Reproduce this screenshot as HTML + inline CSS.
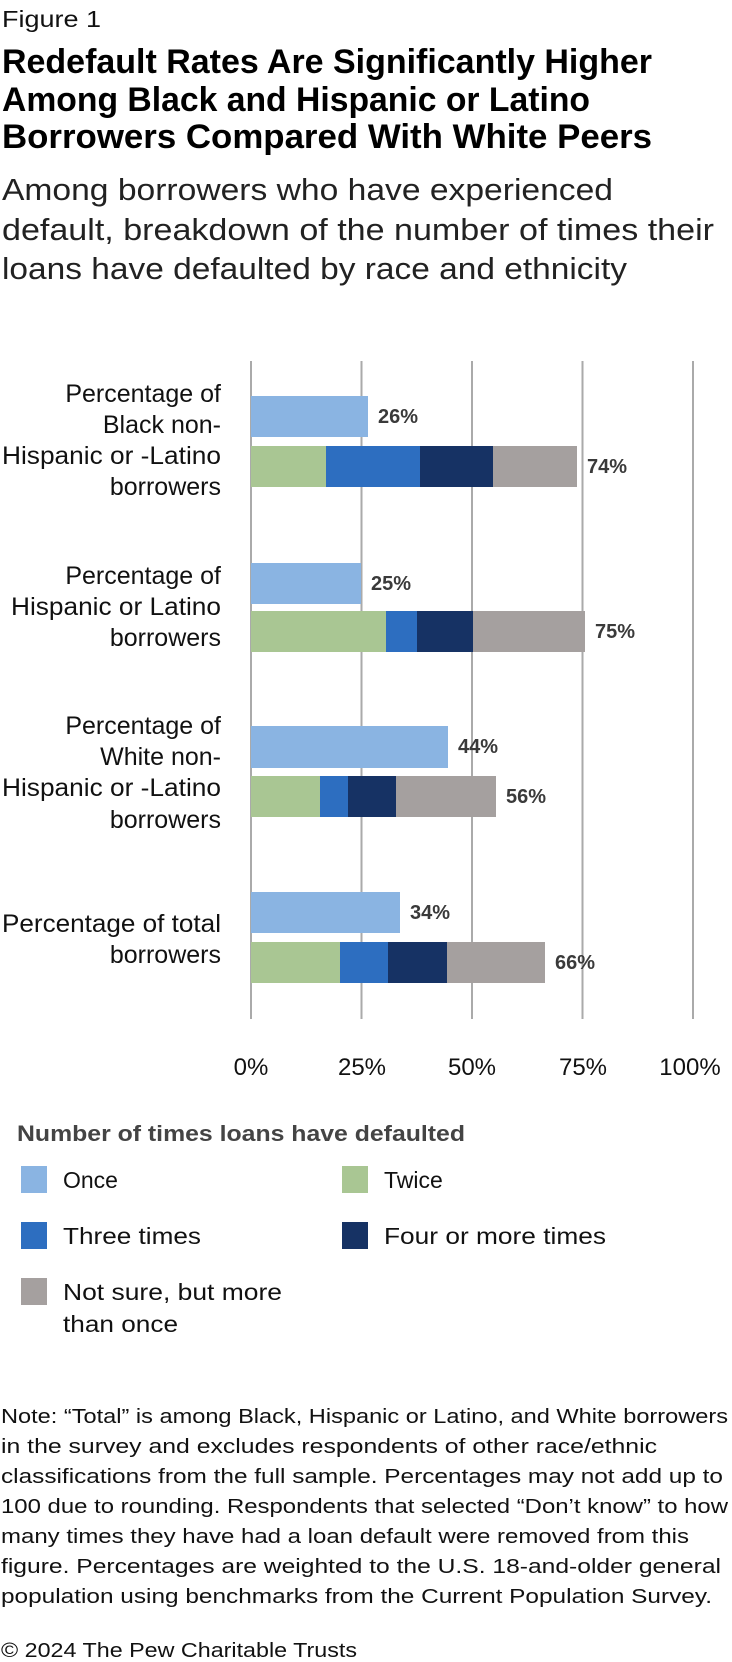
<!DOCTYPE html>
<html><head><meta charset="utf-8"><style>
html,body{margin:0;padding:0;background:#fff}
svg{display:block}
text{font-family:"Liberation Sans",sans-serif}
</style></head><body>
<svg width="732" height="1662" viewBox="0 0 732 1662" xmlns="http://www.w3.org/2000/svg">
<text x="2" y="27" font-size="23" fill="#111" textLength="99" lengthAdjust="spacingAndGlyphs">Figure 1</text>
<g font-weight="bold" font-size="34" fill="#000">
<text x="2" y="73" textLength="650" lengthAdjust="spacingAndGlyphs">Redefault Rates Are Significantly Higher</text>
<text x="2" y="111" textLength="588" lengthAdjust="spacingAndGlyphs">Among Black and Hispanic or Latino</text>
<text x="2" y="148" textLength="650" lengthAdjust="spacingAndGlyphs">Borrowers Compared With White Peers</text>
</g>
<g font-size="31" fill="#222">
<text x="2" y="200" textLength="611" lengthAdjust="spacingAndGlyphs">Among borrowers who have experienced</text>
<text x="2" y="240" textLength="712" lengthAdjust="spacingAndGlyphs">default, breakdown of the number of times their</text>
<text x="2" y="279" textLength="625" lengthAdjust="spacingAndGlyphs">loans have defaulted by race and ethnicity</text>
</g>
<g stroke="#aaa" stroke-width="2">
<line x1="251" y1="361" x2="251" y2="1019"/>
<line x1="361.5" y1="361" x2="361.5" y2="1019"/>
<line x1="472" y1="361" x2="472" y2="1019"/>
<line x1="582.5" y1="361" x2="582.5" y2="1019"/>
<line x1="693" y1="361" x2="693" y2="1019"/>
</g>
<!-- Black -->
<rect x="251" y="396" width="117" height="41" fill="#8ab4e2"/>
<rect x="251" y="446" width="75" height="41" fill="#a9c693"/>
<rect x="326" y="446" width="94" height="41" fill="#2d6ec0"/>
<rect x="420" y="446" width="73" height="41" fill="#163264"/>
<rect x="493" y="446" width="84" height="41" fill="#a5a09f"/>
<!-- Hispanic -->
<rect x="251" y="563" width="110" height="41" fill="#8ab4e2"/>
<rect x="251" y="611" width="135" height="41" fill="#a9c693"/>
<rect x="386" y="611" width="31" height="41" fill="#2d6ec0"/>
<rect x="417" y="611" width="56" height="41" fill="#163264"/>
<rect x="473" y="611" width="112" height="41" fill="#a5a09f"/>
<!-- White -->
<rect x="251" y="726" width="197" height="42" fill="#8ab4e2"/>
<rect x="251" y="776" width="69" height="41" fill="#a9c693"/>
<rect x="320" y="776" width="28" height="41" fill="#2d6ec0"/>
<rect x="348" y="776" width="48" height="41" fill="#163264"/>
<rect x="396" y="776" width="100" height="41" fill="#a5a09f"/>
<!-- Total -->
<rect x="251" y="892" width="149" height="41" fill="#8ab4e2"/>
<rect x="251" y="942" width="89" height="41" fill="#a9c693"/>
<rect x="340" y="942" width="48" height="41" fill="#2d6ec0"/>
<rect x="388" y="942" width="59" height="41" fill="#163264"/>
<rect x="447" y="942" width="98" height="41" fill="#a5a09f"/>
<g font-weight="bold" font-size="20" fill="#3a3a3a">
<text x="378" y="423">26%</text>
<text x="587" y="473">74%</text>
<text x="371" y="590">25%</text>
<text x="595" y="638">75%</text>
<text x="458" y="753">44%</text>
<text x="506" y="803">56%</text>
<text x="410" y="919">34%</text>
<text x="555" y="969">66%</text>
</g>
<g font-size="25" fill="#111" text-anchor="end">
<text x="221" y="402">Percentage of</text>
<text x="221" y="433">Black non-</text>
<text x="221" y="464" textLength="219" lengthAdjust="spacingAndGlyphs">Hispanic or -Latino</text>
<text x="221" y="495">borrowers</text>
<text x="221" y="584">Percentage of</text>
<text x="221" y="615" textLength="210" lengthAdjust="spacingAndGlyphs">Hispanic or Latino</text>
<text x="221" y="646">borrowers</text>
<text x="221" y="734">Percentage of</text>
<text x="221" y="765">White non-</text>
<text x="221" y="796" textLength="219" lengthAdjust="spacingAndGlyphs">Hispanic or -Latino</text>
<text x="221" y="828">borrowers</text>
<text x="221" y="932" textLength="219" lengthAdjust="spacingAndGlyphs">Percentage of total</text>
<text x="221" y="963">borrowers</text>
</g>
<g font-size="24" fill="#111" text-anchor="middle">
<text x="251" y="1075">0%</text>
<text x="362" y="1075">25%</text>
<text x="472" y="1075">50%</text>
<text x="583" y="1075">75%</text>
<text x="690" y="1075">100%</text>
</g>
<text x="17" y="1141" font-size="22" font-weight="bold" fill="#444" textLength="448" lengthAdjust="spacingAndGlyphs">Number of times loans have defaulted</text>
<rect x="21" y="1166" width="26" height="27" fill="#8ab4e2"/>
<rect x="342" y="1166" width="26" height="27" fill="#a9c693"/>
<rect x="21" y="1222" width="26" height="27" fill="#2d6ec0"/>
<rect x="342" y="1222" width="26" height="27" fill="#163264"/>
<rect x="21" y="1278" width="26" height="27" fill="#a5a09f"/>
<g font-size="23" fill="#111">
<text x="63" y="1188">Once</text>
<text x="384" y="1188">Twice</text>
<text x="63" y="1244" textLength="138" lengthAdjust="spacingAndGlyphs">Three times</text>
<text x="384" y="1244" textLength="222" lengthAdjust="spacingAndGlyphs">Four or more times</text>
<text x="63" y="1300" textLength="219" lengthAdjust="spacingAndGlyphs">Not sure, but more</text>
<text x="63" y="1332" textLength="115" lengthAdjust="spacingAndGlyphs">than once</text>
</g>
<g font-size="20" fill="#111" lengthAdjust="spacingAndGlyphs">
<text x="1" y="1423" textLength="727" lengthAdjust="spacingAndGlyphs">Note: “Total” is among Black, Hispanic or Latino, and White borrowers</text>
<text x="1" y="1453" textLength="656" lengthAdjust="spacingAndGlyphs">in the survey and excludes respondents of other race/ethnic</text>
<text x="1" y="1483" textLength="722" lengthAdjust="spacingAndGlyphs">classifications from the full sample. Percentages may not add up to</text>
<text x="1" y="1513" textLength="727" lengthAdjust="spacingAndGlyphs">100 due to rounding. Respondents that selected “Don’t know” to how</text>
<text x="1" y="1543" textLength="688" lengthAdjust="spacingAndGlyphs">many times they have had a loan default were removed from this</text>
<text x="1" y="1573" textLength="720" lengthAdjust="spacingAndGlyphs">figure. Percentages are weighted to the U.S. 18-and-older general</text>
<text x="1" y="1603" textLength="711" lengthAdjust="spacingAndGlyphs">population using benchmarks from the Current Population Survey.</text>
<text x="1" y="1657" textLength="356" lengthAdjust="spacingAndGlyphs">© 2024 The Pew Charitable Trusts</text>
</g>
</svg>
</body></html>
